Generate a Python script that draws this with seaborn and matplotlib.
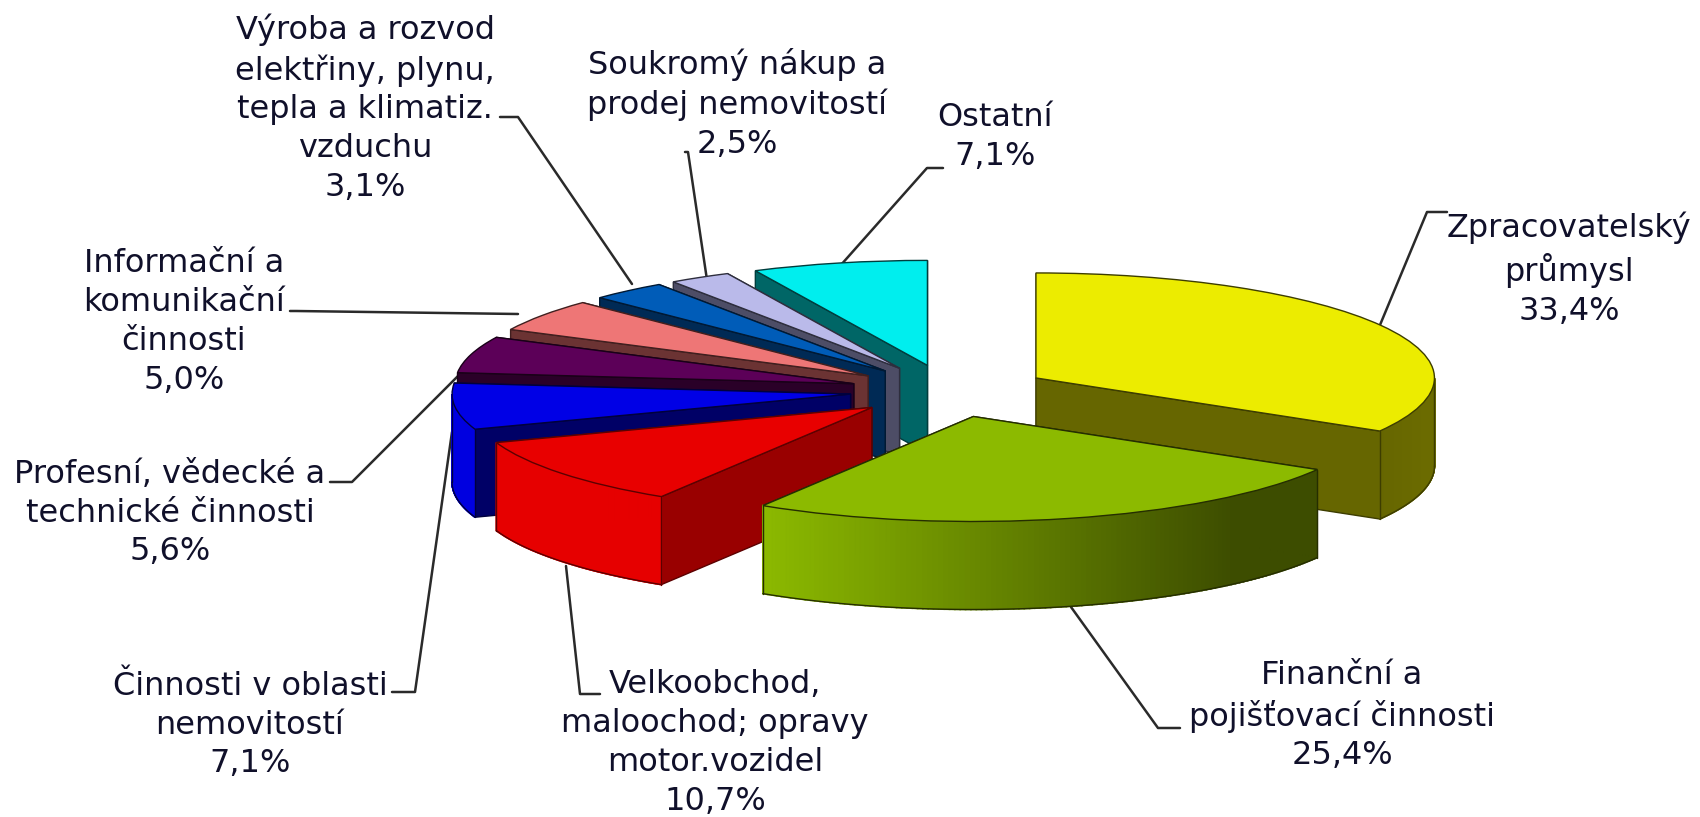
import numpy as np
import matplotlib
matplotlib.use("Agg")
import matplotlib.pyplot as plt
from matplotlib.colors import to_rgb
import seaborn as sns

# Data
sectors = ["Zpracovatelský\nprůmysl", "Finanční a\npojišťovací činnosti",
           "Velkoobchod,\nmaloochod; opravy\nmotor.vozidel", "Činnosti v oblasti\nnemovitostí",
           "Profesní, vědecké a\ntechnické činnosti", "Informační a\nkomunikační\nčinnosti",
           "Výroba a rozvod\nelektřiny, plynu,\ntepla a klimatiz.\nvzduchu",
           "Soukromý nákup a\nprodej nemovitostí", "Ostatní"]
shares = [33.4, 25.4, 10.7, 7.1, 5.6, 5.0, 3.1, 2.5, 7.1]

top_colors = ["#ECEC00", "#8CBA00", "#E80000", "#0000E6", "#5C0058", "#EE7676", "#005CB8", "#BABAEA", "#00EEEE"]
cut_colors = ["#666600", "#3D4D00", "#990000", "#000066", "#2A0028", "#6B3333", "#002A55", "#4D4D66", "#006666"]
# outer wall colour at the left and right end of each slice
wall_left = ["#666600", "#8CBA00", "#E60000", "#0000E0", "#2A0028", "#6B3333", "#002A55", "#4D4D66", "#006666"]
wall_right = ["#6B6B00", "#3D4D00", "#E60000", "#0000E0", "#2A0028", "#6B3333", "#002A55", "#4D4D66", "#006666"]
# back to front
draw_rank = [7, 8, 6, 5, 4, 3, 2, 1, 0]

# Label layout in reference pixels
label_xy = [(1569, 269), (1342, 716), (715, 743), (250, 725), (170, 513),
            (184, 322), (365, 108), (737, 104), (995, 137)]
leaders = [[(1380, 325), (1427, 212), (1447, 212)],
           [(1071, 607), (1158, 728), (1180, 728)],
           [(566, 566), (580, 694), (600, 694)],
           [(452, 432), (415, 692), (392, 692)],
           [(466, 368), (352, 482), (330, 482)],
           [(518, 314), (296, 311), (290, 311)],
           [(632, 284), (518, 117), (500, 117)],
           [(707, 280), (688, 152), (685, 152)],
           [(840, 266), (927, 168), (943, 168)]]

W, H = 1700, 817
CX, CY, RX, RY = 949.5, 391, 398.5, 105
DEPTH = 88 / RY
EXPLODE = 0.25

sns.set_theme(style="white")
fig = plt.figure(figsize=(W / 100, H / 100), dpi=100)
ax = fig.add_axes([0, 0, 1, 1])

wedges, _ = ax.pie(shares, explode=[EXPLODE] * len(shares), colors=top_colors, startangle=90,
                   counterclock=False, wedgeprops={"linewidth": 1.0})
ax.set_aspect("auto")
ax.set_xlim(-CX / RX, (W - CX) / RX)
ax.set_ylim((CY - H) / RY, CY / RY)
ax.axis("off")


def arc_points(w, t1, t2, n=60):
    t = np.radians(np.linspace(t1, t2, n))
    return w.center[0] + w.r * np.cos(t), w.center[1] + w.r * np.sin(t)


for i, w in enumerate(wedges):
    z = 3 + draw_rank[i]
    edge = tuple(np.array(to_rgb(cut_colors[i])) * 0.6)
    w.set_edgecolor(edge)
    w.set_zorder(z + 0.5)
    cx, cy = w.center
    # flat cut walls, back one first
    for th in sorted([w.theta1, w.theta2], key=lambda a: np.sin(np.radians(a)), reverse=True):
        ex, ey = cx + w.r * np.cos(np.radians(th)), cy + w.r * np.sin(np.radians(th))
        ax.fill([cx, ex, ex, cx], [cy, ey, ey - DEPTH, cy - DEPTH], fc=cut_colors[i],
                ec=edge, lw=1.0, zorder=z)
    # rounded outer wall, only where it faces the viewer
    t1 = w.theta1 % 360
    t2 = t1 + (w.theta2 - w.theta1)
    vis1, vis2 = max(t1, 180), min(t2, 360)
    if vis2 > vis1:
        x, y = arc_points(w, vis1, vis2, n=120)
        left, right = np.array(to_rgb(wall_left[i])), np.array(to_rgb(wall_right[i]))
        span = x.max() - x.min()
        for k in range(len(x) - 1):
            f = np.clip(((x[k] + x[k + 1]) / 2 - x.min()) / span / 0.85, 0, 1)
            c = left + (right - left) * f
            ax.fill([x[k], x[k + 1], x[k + 1], x[k]],
                    [y[k], y[k + 1], y[k + 1] - DEPTH, y[k] - DEPTH],
                    fc=c, ec=c, lw=1.2, zorder=z + 0.1)
        ax.plot(x, y - DEPTH, color=edge, lw=1.0, zorder=z + 0.2)
        ax.plot([x[0], x[0]], [y[0], y[0] - DEPTH], color=edge, lw=1.0, zorder=z + 0.2)
        ax.plot([x[-1], x[-1]], [y[-1], y[-1] - DEPTH], color=edge, lw=1.0, zorder=z + 0.2)

# Leader lines and labels
for i, pts in enumerate(leaders):
    px = [(p[0] - CX) / RX for p in pts]
    py = [(CY - p[1]) / RY for p in pts]
    ax.plot(px, py, color="#2a2a2a", lw=1.8, zorder=2)
    text = sectors[i] + "\n" + f"{shares[i]:.1f}%".replace(".", ",")
    fig.text(label_xy[i][0] / W, 1 - label_xy[i][1] / H, text, ha="center", va="center",
             fontsize=23, color="#10102a", family="DejaVu Sans", linespacing=1.32)

fig.savefig("out.png", dpi=100, facecolor="white")
